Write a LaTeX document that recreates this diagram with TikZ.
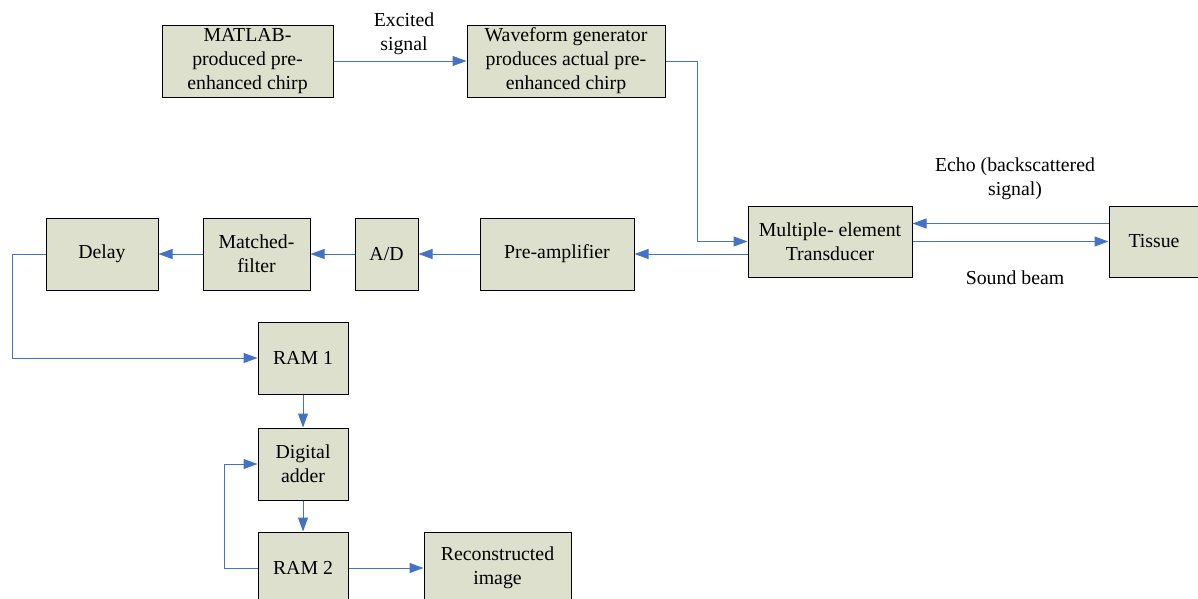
\documentclass[tikz,border=0pt]{standalone}
\usepackage{fontspec}
\setmainfont{Liberation Serif}
\usetikzlibrary{arrows.meta}
\definecolor{boxfill}{RGB}{221,224,204}
\definecolor{arrowblue}{RGB}{68,114,196}
\begin{document}
\begin{tikzpicture}[x=1pt,y=-1pt,
  box/.style={draw=black, line width=1pt, fill=boxfill, align=center, inner sep=0pt,
    font=\fontsize{19.8}{24}\selectfont},
  conn/.style={draw=arrowblue, line width=1pt, -{Triangle[length=14pt,width=10pt]}},
  lbl/.style={align=center, font=\fontsize{19.8}{24}\selectfont, inner sep=0pt}]
\useasboundingbox (0,0) rectangle (1198,598);
\clip (0,0) rectangle (1198,598);
\node[box, minimum width=171pt, minimum height=72pt] (matlab) at (247.5,61) {MATLAB-\\produced pre-\\enhanced chirp};
\node[box, minimum width=198pt, minimum height=72pt] (wave) at (566,61) {Waveform generator\\produces actual pre-\\enhanced chirp};
\node[box, minimum width=164pt, minimum height=71pt] (trans) at (830,241.5) {Multiple- element\\Transducer};
\node[box, minimum width=90pt, minimum height=71pt] (tissue) at (1154,241.5) {Tissue};
\node[box, minimum width=112pt, minimum height=72pt] (delay) at (102,254) {Delay};
\node[box, minimum width=107pt, minimum height=72pt] (mf) at (256.5,254) {Matched-\\filter};
\node[box, minimum width=63pt, minimum height=72pt] (ad) at (386.5,254) {A/D};
\node[box, minimum width=154pt, minimum height=72pt] (pre) at (557,254) {Pre-amplifier};
\node[box, minimum width=90pt, minimum height=72pt] (ram1) at (303,358) {RAM 1};
\node[box, minimum width=90pt, minimum height=72pt] (adder) at (303,464) {Digital\\adder};
\node[box, minimum width=90pt, minimum height=72pt] (ram2) at (303,568) {RAM 2};
\node[box, minimum width=147pt, minimum height=72pt] (recon) at (497.5,568) {Reconstructed\\image};
\node[lbl] (lexc) at (404,34) {Excited\\signal};
\node[lbl] (lecho) at (1015,179) {Echo (backscattered\\signal)};
\node[lbl] (lsound) at (1015,278) {Sound beam};
\draw[conn] (matlab) -- (wave);
\draw[conn] (wave.east) -- ++(32,0) |- (trans.west);
\draw[conn] (trans) -- (tissue);
\draw[conn] ([yshift=18pt]tissue.west) -- ([yshift=18pt]trans.east);
\draw[conn] (trans.west |- pre.east) -- (pre.east);
\draw[conn] (pre) -- (ad);
\draw[conn] (ad) -- (mf);
\draw[conn] (mf) -- (delay);
\draw[conn] (delay.west) -- ++(-33,0) |- (ram1.west);
\draw[conn] (ram1) -- (adder);
\draw[conn] (adder) -- (ram2);
\draw[conn] (ram2.west) -- ++(-33,0) |- (adder.west);
\draw[conn] (ram2) -- (recon);
\end{tikzpicture}
\end{document}
